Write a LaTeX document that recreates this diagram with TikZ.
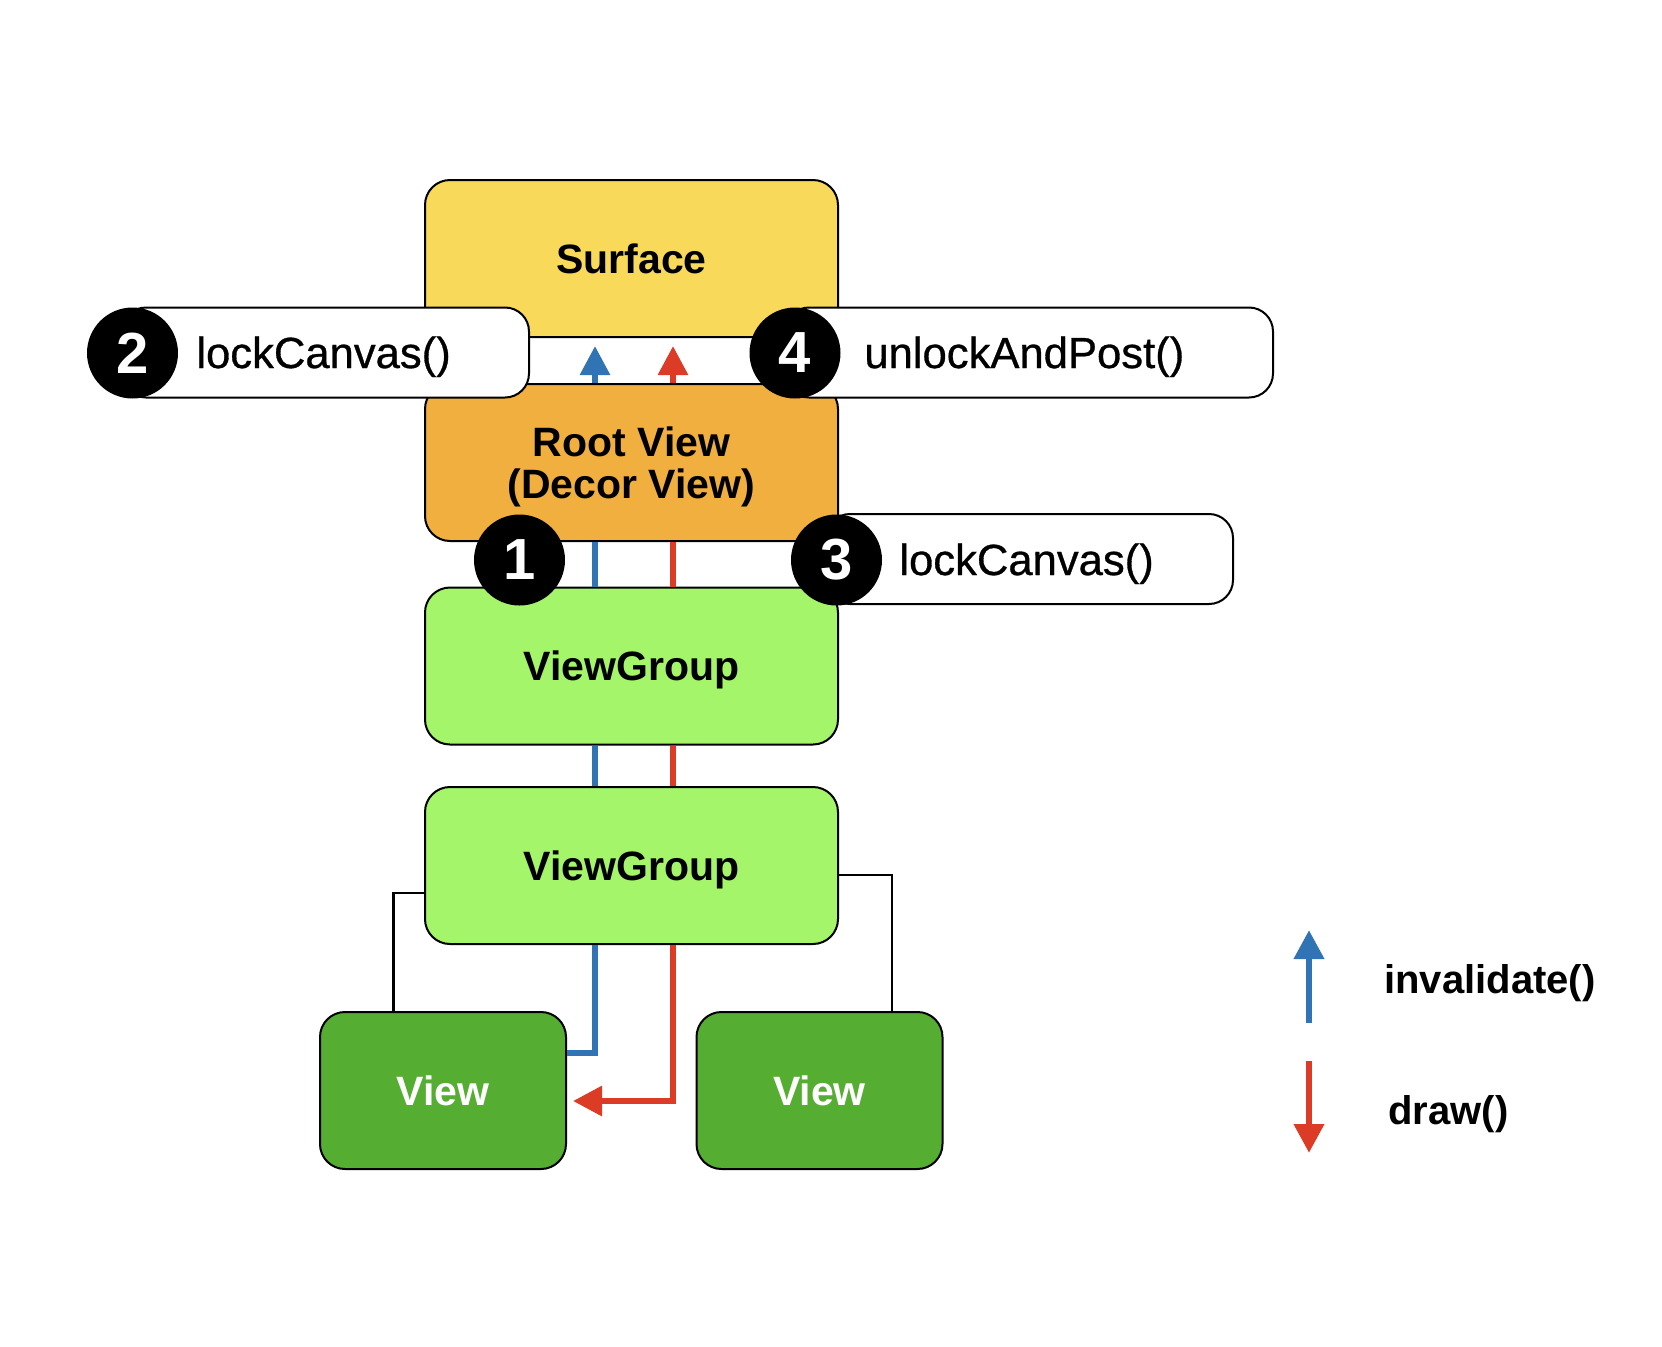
\documentclass[tikz,border=0pt]{standalone}
\usepackage{fontspec}
\setmainfont{Liberation Sans}
\newfontfamily\medfont[FakeBold=0.7]{Liberation Sans}
\usetikzlibrary{arrows.meta}
\definecolor{surf}{RGB}{248,217,90}
\definecolor{rootc}{RGB}{241,175,64}
\definecolor{vgc}{RGB}{164,245,106}
\definecolor{viewc}{RGB}{85,174,50}
\definecolor{blu}{RGB}{49,116,182}
\definecolor{rd}{RGB}{220,59,38}
\begin{document}
\begin{tikzpicture}[x=0.5pt,y=-0.5pt,
 box/.style={draw=black,line width=1pt,rounded corners=12.5pt,minimum width=206.5pt,minimum height=78.5pt,
   font=\bfseries\fontsize{20.5}{21}\selectfont,align=center,inner sep=0pt,text height=14.7pt,text depth=0pt},
 vbox/.style={box,minimum width=123pt,fill=viewc,text=white},
 pill/.style={draw=black,line width=1pt,fill=white,rounded corners=12pt,minimum height=45pt,inner sep=0pt},
 num/.style={circle,fill=black,minimum size=45.5pt,inner sep=0pt,text=white,font=\bfseries\fontsize{29}{29}\selectfont},
 ptext/.style={anchor=base west,font=\medfont\fontsize{21.8}{22}\selectfont,inner sep=0pt},
 blueline/.style={draw=blu,line width=3pt},
 redline/.style={draw=rd,line width=3pt},
 tip/.style={-{Triangle[length=14.5pt,width=14.5pt]}},
 tree/.style={draw=black,line width=1.2pt},
 legtext/.style={anchor=base west,font=\bfseries\fontsize{20}{20}\selectfont,inner sep=0pt}
]
\useasboundingbox[fill=white] (0,0) rectangle (1662,1346);

% boxes
\node[box,fill=surf] (surface) at (631.5,258.5) {Surface};
\node[box,fill=rootc,text height=35.7pt] (root) at (631.5,462.5) {Root View\\(Decor View)};
\node[box,fill=vgc] (vg1) at (631.5,666) {ViewGroup};
\node[box,fill=vgc] (vg2) at (631.5,865.5) {ViewGroup};
\node[vbox] (viewl) at (443,1090.5) {View};
\node[vbox] (viewr) at (819.5,1090.5) {View};

% helper coordinates
\coordinate (bx) at (595,0);
\coordinate (rx) at (673,0);
\coordinate (by) at (0,1053);
\coordinate (ry) at (0,1101);
\coordinate (tl) at (393.5,893);
\coordinate (tr) at (892,875);

% blue / red flows
\draw[blueline,tip,shorten >=4pt] (root.north -| bx) -- (surface.south -| bx);
\draw[redline,tip,shorten >=4pt] (root.north -| rx) -- (surface.south -| rx);
\draw[blueline] (root.south -| bx) -- (vg1.north -| bx);
\draw[redline] (root.south -| rx) -- (vg1.north -| rx);
\draw[blueline] (vg1.south -| bx) -- (vg2.north -| bx);
\draw[redline] (vg1.south -| rx) -- (vg2.north -| rx);
\draw[blueline] (vg2.south -| bx) |- (viewl.east |- by);
\draw[redline,tip,shorten >=3pt] (vg2.south -| rx) |- (viewl.east |- ry);

% tree connectors
\draw[tree] (vg2.west |- tl) -| (viewl.north -| tl);
\draw[tree] (vg2.east |- tr) -| (viewr.north -| tr);

% pills
\node[pill,minimum width=203.5pt] (p2) at (325.5,352.5) {};
\node[num] (n2) at (132.5,353) {2};
\node[ptext] (t2) at (196,368) {lockCanvas()};

\node[pill,minimum width=244pt] (p4) at (1029,352.5) {};
\node[num] (n4) at (795,353) {4};
\node[ptext] (t4) at (864,368) {unlockAndPost()};

\node[pill,minimum width=203.5pt] (p3) at (1029.5,559) {};
\node[num] (n3) at (836.5,560) {3};
\node[ptext] (t3) at (899,575) {lockCanvas()};

\node[num] (n1) at (519.5,560) {1};

% legend
\coordinate (la1) at (1309,1023);
\coordinate (la2) at (1309,930);
\coordinate (lb1) at (1309,1061);
\coordinate (lb2) at (1309,1153);
\draw[blueline,tip,line width=3.4pt] (la1) -- (la2);
\draw[redline,tip,line width=3.4pt] (lb1) -- (lb2);
\node[legtext] (inv) at (1384,993) {invalidate()};
\node[legtext] (drw) at (1388,1124) {draw()};
\end{tikzpicture}
\end{document}
